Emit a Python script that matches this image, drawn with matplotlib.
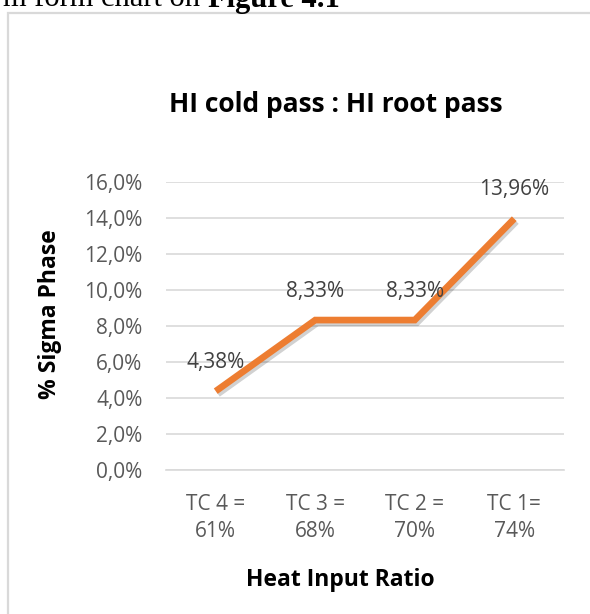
import matplotlib.pyplot as plt
import matplotlib.patheffects as pe
from matplotlib.patches import Rectangle
from matplotlib.ticker import FuncFormatter

# data
categories = ['TC 4 =\n61%', 'TC 3 =\n68%', 'TC 2 =\n70%', 'TC 1=\n74%']
sigma_phase = [4.38, 8.33, 8.33, 13.96]
point_labels = ['4,38%', '8,33%', '8,33%', '13,96%']
y_ticks = [0, 2, 4, 6, 8, 10, 12, 14, 16]

plt.rcParams['font.family'] = ['Open Sans', 'DejaVu Sans']

W, H = 590, 614
fig = plt.figure(figsize=(W / 100, H / 100), dpi=100)

# chart frame (page crop)
fig.patches.append(Rectangle((8 / W, -0.1), 1.2, 1.1 - 13 / H,
                             transform=fig.transFigure, fill=False,
                             edgecolor='#d9d9d9', lw=1.6))

# cut-off document text above the chart
fig.text(200 / W, 1 - 6.5 / H, 'm form chart on', ha='right', va='baseline',
         fontsize=22, family='Liberation Serif', color='black')
fig.text(208 / W, 1 - 6.5 / H, 'Figure 4.1', ha='left', va='baseline',
         fontsize=22, family='Liberation Serif', fontweight='bold', color='black')

ax = fig.add_axes([166 / W, 1 - 470 / H, (564 - 166) / W, (470 - 182) / H])
x = list(range(len(categories)))

ax.plot(x, sigma_phase, color='#ED7D31', lw=4.8, solid_capstyle='butt',
        solid_joinstyle='miter', zorder=3,
        path_effects=[pe.SimpleLineShadow(offset=(1.5, -2), shadow_color='black',
                                          alpha=0.18), pe.Normal()])

for xi, yi, lab in zip(x, sigma_phase, point_labels):
    ax.annotate(lab, (xi, yi), xytext=(0, 29), textcoords='offset pixels',
                ha='center', va='center', fontsize=15, color='#404040')

ax.set_xlim(-0.5, len(categories) - 0.5)
ax.set_ylim(0, 16)
ax.set_yticks(y_ticks)
ax.yaxis.set_major_formatter(FuncFormatter(lambda v, p: f'{v:.1f}%'.replace('.', ',')))
ax.set_xticks(x)
ax.set_xticklabels(categories, linespacing=1.4)
ax.tick_params(axis='both', length=0, labelsize=15, labelcolor='#595959')
ax.tick_params(axis='y', pad=17)
ax.tick_params(axis='x', pad=17)

ax.grid(axis='y', color='#d9d9d9', lw=1.2)
ax.set_axisbelow(True)
for s in ['top', 'right', 'left']:
    ax.spines[s].set_visible(False)
ax.spines['bottom'].set_color('#d9d9d9')
ax.spines['bottom'].set_linewidth(1.2)

fig.text(336 / W, 1 - 112 / H, 'HI cold pass : HI root pass', ha='center',
         va='baseline', fontsize=19, fontweight='bold')
fig.text(50 / W, 1 - 314 / H, '% Sigma Phase', ha='center', va='center',
         rotation=90, fontsize=16.5, fontweight='bold')
fig.text(340 / W, 1 - 586 / H, 'Heat Input Ratio', ha='center', va='baseline',
         fontsize=16.5, fontweight='bold')

fig.savefig('out.png', dpi=100)
